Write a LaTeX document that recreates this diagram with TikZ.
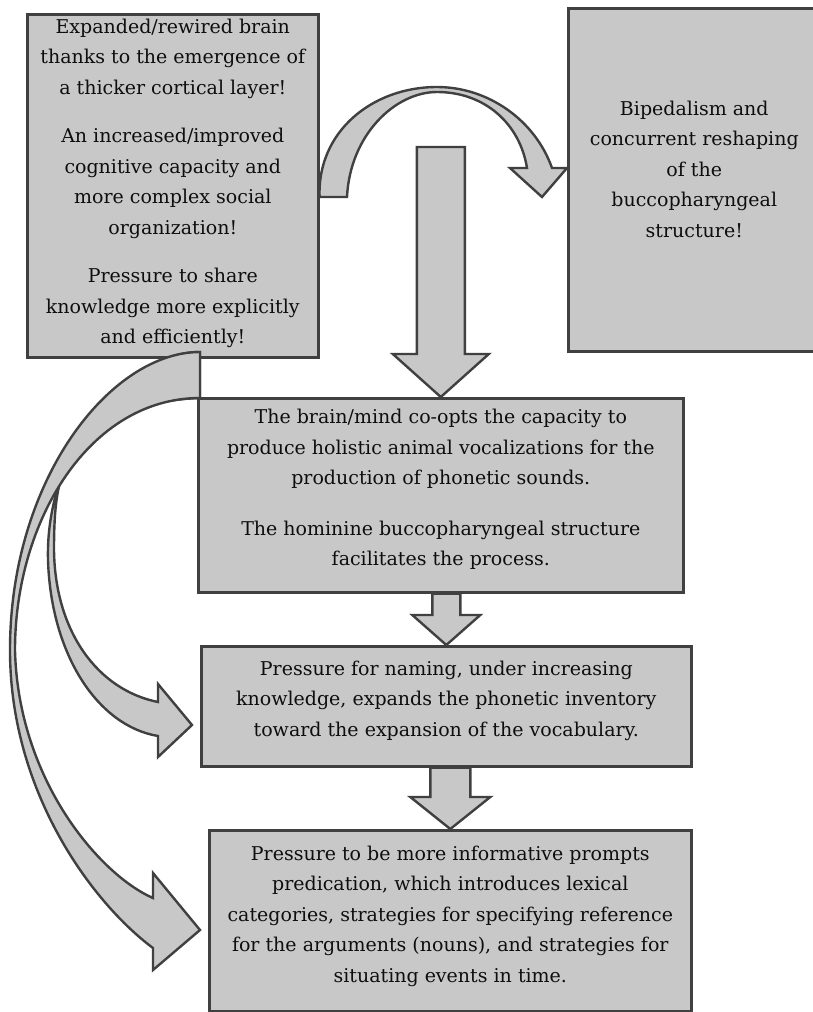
\documentclass[tikz,border=0pt]{standalone}
\usepackage{fontspec}
\setmainfont{DejaVu Serif}
\usetikzlibrary{calc}
\definecolor{stagefill}{RGB}{200,200,200}
\definecolor{stageline}{RGB}{64,64,64}
\definecolor{stagetext}{RGB}{14,14,14}

\begin{document}
\begin{tikzpicture}[x=1pt, y=-1pt,
  stagebox/.style={rectangle, draw=stageline, fill=stagefill, line width=2.6pt,
                   text=stagetext, font=\fontsize{19}{30.5}\selectfont, align=center,
                   inner sep=0pt, text depth=14pt, anchor=north west},
  blockarrow/.style={draw=stageline, fill=stagefill, line width=2.4pt, line join=miter}
]
\useasboundingbox (0,0) rectangle (813,1012);
\clip (0,0) rectangle (813,1012);

\node[stagebox, minimum width=291pt, minimum height=343pt, text depth=9pt] (brain) at (26,13)
  {Expanded/rewired brain\\ thanks to the emergence of\\ a thicker cortical layer!\\[18pt]
   An increased/improved\\ cognitive capacity and\\ more complex social\\ organization!\\[18pt]
   Pressure to share\\ knowledge more explicitly\\ and efficiently!};
\node[stagebox, minimum width=252pt, minimum height=343pt, text depth=22pt] (biped) at (567,7)
  {Bipedalism and\\ concurrent reshaping\\ of the\\ buccopharyngeal\\ structure!};
\node[stagebox, minimum width=485pt, minimum height=194pt, text depth=16pt] (vocal) at (197,397)
  {The brain/mind co-opts the capacity to\\ produce holistic animal vocalizations for the\\
   production of phonetic sounds.\\[20pt]
   The hominine buccopharyngeal structure\\ facilitates the process.};
\node[stagebox, minimum width=490pt, minimum height=120pt, text depth=16pt] (naming) at (200,645)
  {Pressure for naming, under increasing\\ knowledge, expands the phonetic inventory\\
   toward the expansion of the vocabulary.};
\node[stagebox, minimum width=482pt, minimum height=181pt] (predic) at (208,829)
  {Pressure to be more informative prompts\\ predication, which introduces lexical\\
   categories, strategies for specifying reference\\ for the arguments (nouns), and strategies for\\
   situating events in time.};

% straight block arrows down the column
\coordinate (flowtop) at (vocal.north |- 0,147);
\foreach \src/\dst/\sw/\hw/\hl in {flowtop/vocal.north/24/48/43,
                                   vocal.south/naming.north/14/34/30,
                                   naming.south/predic.north/20/40/32}
  \draw[blockarrow] ($(\dst |- \src)+(-\sw,0)$) -- ($(\dst)+(-\sw,-\hl)$) -- ($(\dst)+(-\hw,-\hl)$)
    -- (\dst) -- ($(\dst)+(\hw,-\hl)$) -- ($(\dst)+(\sw,-\hl)$) -- ($(\dst |- \src)+(\sw,0)$) -- cycle;

% arch from the brain box over to the bipedalism box
\coordinate (archtail) at (brain.east |- 0,197);
\coordinate (archwing) at (biped.west |- 0,168);
\draw[blockarrow] (archtail) .. controls (317,132) and (372,87) .. (437,87)
  .. controls (488,87) and (535,120) .. (552,168) -- (archwing) -- (542,197) -- (510,168) -- (527,168)
  .. controls (520,124) and (485,92) .. (437,92) .. controls (395,92) and (350,135) .. (347,197) -- cycle;

% sweeps down the left side
\coordinate (sweeptop) at (200,352);
\coordinate (sweepbot) at (200,398);
\coordinate (nametip) at ($(naming.west |- 0,725)+(-8,0)$);
\coordinate (predtip) at ($(predic.west |- 0,930)+(-8,0)$);
\draw[blockarrow] (sweeptop) .. controls (125,352) and (45,450) .. (48,560)
  .. controls (51,655) and (98,726) .. (158,736) -- (158,757) -- (nametip) -- (158,684) -- (158,702)
  .. controls (98,690) and (55,632) .. (54,550) .. controls (54,515) and (56,490) .. (64,470)
  .. controls (90,420) and (140,400) .. (sweepbot) -- cycle;
\draw[blockarrow] (sweeptop) .. controls (110,352) and (10,480) .. (10,650)
  .. controls (10,795) and (95,905) .. (153,948) -- (153,970) -- (predtip) -- (153,873) -- (153,898)
  .. controls (100,875) and (18,780) .. (15,650) .. controls (15,520) and (90,398) .. (sweepbot) -- cycle;

\end{tikzpicture}
\end{document}
